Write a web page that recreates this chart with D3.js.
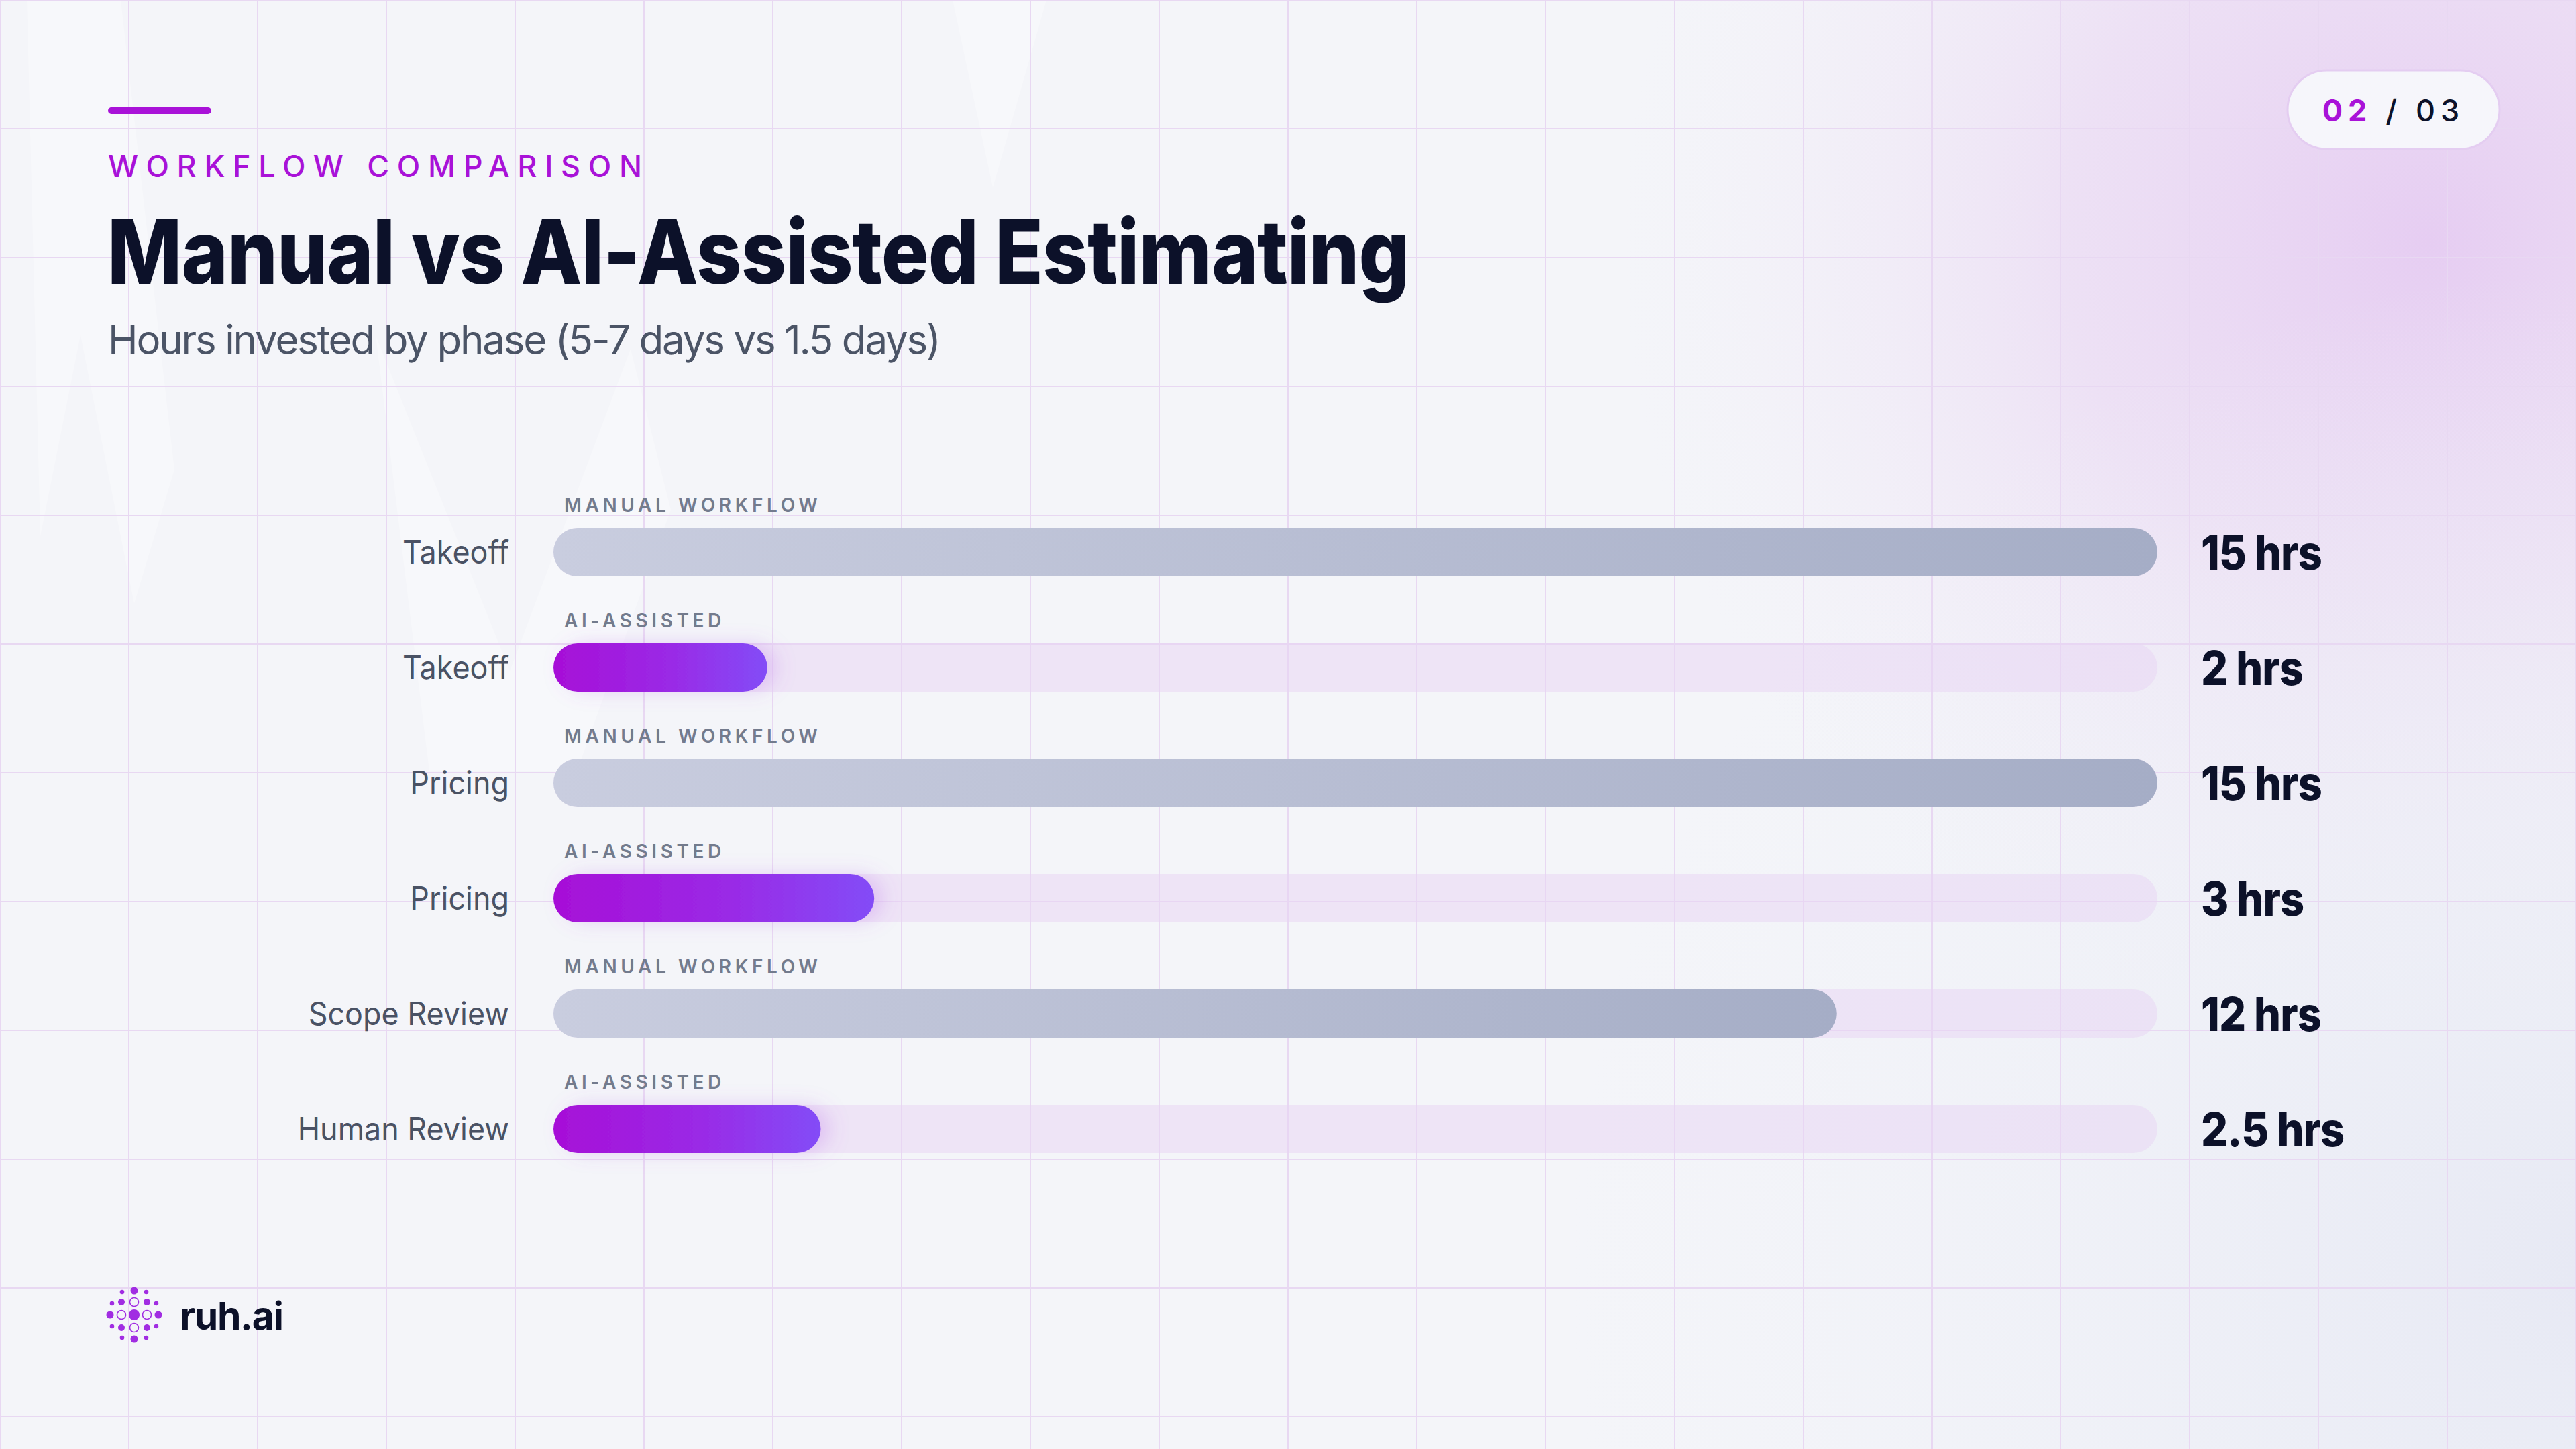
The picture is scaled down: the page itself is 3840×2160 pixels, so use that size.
<!DOCTYPE html>
<html>
<head>
<meta charset="utf-8">
<script src="https://cdn.jsdelivr.net/npm/d3@7"></script>
<style>
  html, body { margin: 0; padding: 0; background: #f4f5f9; }
  svg { display: block; }
  text { font-family: Inter, "Noto Sans", sans-serif; }
</style>
</head>
<body>
<svg id="chart" width="3840" height="2160"></svg>
<script>
// ---- data ----
const categories   = ["Takeoff", "Takeoff", "Pricing", "Pricing", "Scope Review", "Human Review"];
const seriesTypes  = ["manual", "ai", "manual", "ai", "manual", "ai"];
const seriesLabels = ["MANUAL WORKFLOW", "AI-ASSISTED", "MANUAL WORKFLOW", "AI-ASSISTED", "MANUAL WORKFLOW", "AI-ASSISTED"];
const hours        = [15, 2, 15, 3, 12, 2.5];
const valueLabels  = ["15 hrs", "2 hrs", "15 hrs", "3 hrs", "12 hrs", "2.5 hrs"];
const maxHours     = 15;

const eyebrow  = "WORKFLOW COMPARISON";
const title    = "Manual vs AI-Assisted Estimating";
const subtitle = "Hours invested by phase (5-7 days vs 1.5 days)";
const pageCur  = "02";
const pageTot  = "03";
const brand    = "ruh.ai";

// ---- setup ----
const W = 3840, H = 2160;
const svg = d3.select("#chart");
const defs = svg.append("defs");

function fitWidth(sel, target) {
  sel.attr("letter-spacing", 0);
  const n = sel.text().length;
  const len = sel.node().getComputedTextLength();
  sel.attr("letter-spacing", (target - len) / Math.max(1, n - 1));
}
// horizontally condense glyphs by a factor (keeps real text)
function condense(sel, factor) {
  sel.each(function () {
    const len = this.getComputedTextLength();
    d3.select(this).attr("textLength", len * factor).attr("lengthAdjust", "spacingAndGlyphs");
  });
}

// background
svg.append("rect").attr("width", W).attr("height", H).attr("fill", "#f4f5f9");

const glow = defs.append("radialGradient").attr("id", "glowTR")
  .attr("gradientUnits", "userSpaceOnUse").attr("cx", 3620).attr("cy", 360).attr("r", 1200);
glow.append("stop").attr("offset", 0).attr("stop-color", "#e6cdf2").attr("stop-opacity", 1);
glow.append("stop").attr("offset", 0.45).attr("stop-color", "#ead8f3").attr("stop-opacity", 0.7);
glow.append("stop").attr("offset", 1).attr("stop-color", "#f1ecf7").attr("stop-opacity", 0);
svg.append("rect").attr("width", W).attr("height", H).attr("fill", "url(#glowTR)");

const glowBR = defs.append("radialGradient").attr("id", "glowBR")
  .attr("gradientUnits", "userSpaceOnUse").attr("cx", 3840).attr("cy", 1900).attr("r", 1500);
glowBR.append("stop").attr("offset", 0).attr("stop-color", "#e7e9f4").attr("stop-opacity", 1);
glowBR.append("stop").attr("offset", 1).attr("stop-color", "#eef0f7").attr("stop-opacity", 0);
svg.append("rect").attr("width", W).attr("height", H).attr("fill", "url(#glowBR)");

// faint ghost shapes (top-left watermark)
const ghost = svg.append("g").attr("fill", "#ffffff").attr("fill-opacity", 0.3);
ghost.append("path").attr("d", "M40,0 L180,0 L260,700 L200,900 L120,500 L60,800 Z");
ghost.append("path").attr("d", "M560,500 L760,1000 L940,520 L1000,760 L860,1150 L640,1150 Z");
ghost.append("path").attr("d", "M1420,0 L1560,0 L1480,280 Z");

// grid
const gridStep = 192;
const gx = d3.range(0, W + 1, gridStep);
const gy = d3.range(0, H + 1, gridStep);
const grid = svg.append("g").attr("stroke", "#e8d8f2").attr("stroke-width", 2);
grid.selectAll("line.v").data(gx).join("line").attr("class", "v")
  .attr("x1", d => d).attr("x2", d => d).attr("y1", 0).attr("y2", H);
grid.selectAll("line.h").data(gy).join("line").attr("class", "h")
  .attr("y1", d => d).attr("y2", d => d).attr("x1", 0).attr("x2", W);

// header
svg.append("rect").attr("x", 161).attr("y", 160).attr("width", 154).attr("height", 10)
  .attr("rx", 5).attr("fill", "#a912d8");

const eb = svg.append("text").attr("x", 161).attr("y", 264)
  .attr("font-size", 45).attr("font-weight", 500).attr("fill", "#a912d8").text(eyebrow);
fitWidth(eb, 796);

const tt = svg.append("text").attr("x", 160).attr("y", 423)
  .attr("font-size", 132).attr("font-weight", 800).attr("fill", "#0c1129")
  .attr("letter-spacing", -1).text(title);
tt.attr("textLength", 1940).attr("lengthAdjust", "spacingAndGlyphs");

const st = svg.append("text").attr("x", 161).attr("y", 528)
  .attr("font-size", 60).attr("font-weight", 400).attr("fill", "#4b5466").text(subtitle);
fitWidth(st, 1242);

// page pill
svg.append("rect").attr("x", 3410).attr("y", 105).attr("width", 316).attr("height", 117)
  .attr("rx", 58.5).attr("fill", "#f6f6fb").attr("stroke", "#e4cdf1").attr("stroke-width", 3);
const pg = svg.append("text").attr("x", 3568).attr("y", 181).attr("text-anchor", "middle")
  .attr("font-size", 45).attr("font-weight", 600).attr("letter-spacing", 8);
pg.append("tspan").attr("fill", "#a912d8").attr("font-weight", 700).text(pageCur);
pg.append("tspan").attr("fill", "#0c1129").attr("font-weight", 500).text(" / " + pageTot);

// ---- chart ----
const x = d3.scaleLinear().domain([0, maxHours]).range([825, 3216]);
const y = d3.scaleLinear().domain([0, categories.length - 1]).range([823, 1683]);
const barH = 72;

const gManual = defs.append("linearGradient").attr("id", "gManual");
gManual.append("stop").attr("offset", 0).attr("stop-color", "#c9cddf");
gManual.append("stop").attr("offset", 1).attr("stop-color", "#a5adc6");
const gAI = defs.append("linearGradient").attr("id", "gAI");
gAI.append("stop").attr("offset", 0).attr("stop-color", "#a70fd7");
gAI.append("stop").attr("offset", 0.55).attr("stop-color", "#9a2ae6");
gAI.append("stop").attr("offset", 1).attr("stop-color", "#834cf7");
const shadow = defs.append("filter").attr("id", "aiGlow")
  .attr("x", -0.2).attr("y", -0.6).attr("width", 1.6).attr("height", 2.2);
shadow.append("feDropShadow").attr("dx", 14).attr("dy", 0).attr("stdDeviation", 14)
  .attr("flood-color", "#b45be8").attr("flood-opacity", 0.25);

const rows = svg.append("g").selectAll("g.row")
  .data(d3.range(categories.length)).join("g").attr("class", "row");

// tracks
rows.append("rect")
  .attr("x", x(0)).attr("y", i => y(i) - barH / 2)
  .attr("width", x(maxHours) - x(0)).attr("height", barH).attr("rx", barH / 2)
  .attr("fill", "#e8d3f3").attr("fill-opacity", 0.5);

// bars
rows.append("rect")
  .attr("x", x(0)).attr("y", i => y(i) - barH / 2)
  .attr("width", i => x(hours[i]) - x(0)).attr("height", barH).attr("rx", barH / 2)
  .attr("fill", i => seriesTypes[i] === "ai" ? "url(#gAI)" : "url(#gManual)")
  .attr("filter", i => seriesTypes[i] === "ai" ? "url(#aiGlow)" : null);

// series labels
rows.append("text")
  .attr("x", 841).attr("y", i => y(i) - barH / 2 - 24)
  .attr("font-size", 28).attr("font-weight", 600).attr("fill", "#737b8d")
  .attr("letter-spacing", 5.6)
  .text(i => seriesLabels[i]);

// category labels
rows.append("text")
  .attr("x", 759).attr("y", i => y(i) + 17)
  .attr("text-anchor", "end")
  .attr("font-size", 48).attr("font-weight", 400).attr("fill", "#4a5264")
  .text(i => categories[i])
  .call(condense, 0.935);

// value labels
rows.append("text")
  .attr("x", 3281).attr("y", i => y(i) + 26)
  .attr("font-size", 70).attr("font-weight", 800).attr("fill", "#0c1129")
  .attr("letter-spacing", -1)
  .text(i => valueLabels[i])
  .call(condense, 0.9);

// ---- brand ----
const logo = svg.append("g").attr("transform", "translate(200,1960)");
const dotsFilled = [
  [0, 0, 8], [0, -36, 5.5], [0, 36, 5.5], [-36, 0, 5.5], [36, 0, 5.5],
  [-19, -19, 5], [19, -19, 5], [-19, 19, 5], [19, 19, 5],
  [-18, -34, 3.3], [18, -34, 3.3], [-18, 34, 3.3], [18, 34, 3.3],
  [-33, -17, 3.3], [33, -17, 3.3], [-33, 17, 3.3], [33, 17, 3.3]
];
const dotsHollow = [[0, -19], [0, 19], [-19, 0], [19, 0]];
logo.selectAll("circle.f").data(dotsFilled).join("circle").attr("class", "f")
  .attr("cx", d => d[0]).attr("cy", d => d[1]).attr("r", d => d[2]).attr("fill", "#a12de2");
logo.selectAll("circle.h").data(dotsHollow).join("circle").attr("class", "h")
  .attr("cx", d => d[0]).attr("cy", d => d[1]).attr("r", 6.5)
  .attr("fill", "none").attr("stroke", "#a12de2").attr("stroke-width", 1.6);

const br = svg.append("text").attr("x", 268).attr("y", 1982)
  .attr("font-size", 57).attr("font-weight", 700).attr("fill", "#0c1129")
  .text(brand);
fitWidth(br, 155);
</script>
</body>
</html>
